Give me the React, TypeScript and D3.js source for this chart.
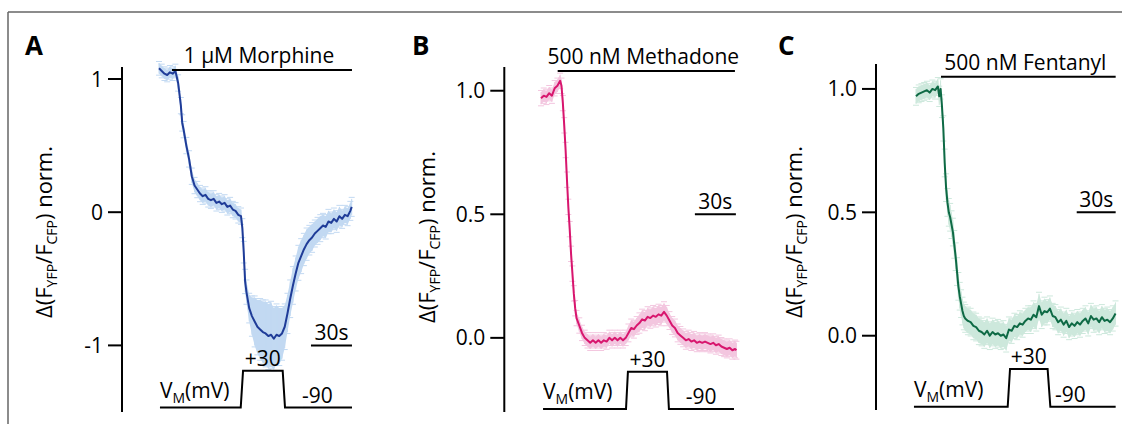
import React from 'react';
import * as d3 from 'd3';

const FONT = '"Open Sans", "Noto Sans", sans-serif';
const PX_PER_SEC = 41 / 30;

// A: 1 µM Morphine (time in s, normalised FRET ratio, SEM)
const timeA = [0, 2, 4, 6, 8, 10, 12, 14, 16, 17, 18, 20, 22, 24, 26, 28, 30, 32, 34, 36, 38, 40, 42, 44, 46, 48, 50, 52, 54, 56, 58, 60, 61, 62, 63, 64, 66, 68, 70, 72, 74, 76, 78, 80, 82, 84, 86, 88, 90, 92, 94, 96, 98, 100, 102, 104, 106, 108, 110, 112, 114, 116, 118, 120, 122, 124, 126, 128, 130, 132, 134, 136, 138, 140, 141];
const meanA = [1.08, 1.06, 1.04, 1.03, 1.05, 1.04, 1.06, 0.97, 0.8, 0.67, 0.62, 0.5, 0.4, 0.27, 0.2, 0.17, 0.14, 0.12, 0.13, 0.1, 0.09, 0.1, 0.07, 0.08, 0.06, 0.07, 0.04, 0.05, 0.02, 0.01, -0.02, -0.03, -0.12, -0.3, -0.52, -0.6, -0.72, -0.78, -0.82, -0.86, -0.88, -0.9, -0.91, -0.93, -0.92, -0.95, -0.92, -0.93, -0.91, -0.86, -0.76, -0.65, -0.55, -0.46, -0.38, -0.33, -0.28, -0.24, -0.21, -0.19, -0.16, -0.14, -0.12, -0.1, -0.11, -0.07, -0.08, -0.05, -0.07, -0.03, -0.05, -0.02, -0.03, 0.01, 0.04];
const semA = [0.04, 0.04, 0.04, 0.04, 0.04, 0.04, 0.04, 0.05, 0.05, 0.05, 0.05, 0.05, 0.05, 0.05, 0.05, 0.05, 0.05, 0.05, 0.05, 0.05, 0.05, 0.05, 0.05, 0.05, 0.05, 0.05, 0.05, 0.05, 0.05, 0.05, 0.05, 0.05, 0.06, 0.07, 0.08, 0.08, 0.1, 0.14, 0.18, 0.2, 0.22, 0.23, 0.24, 0.24, 0.24, 0.23, 0.22, 0.21, 0.19, 0.16, 0.14, 0.13, 0.13, 0.12, 0.12, 0.12, 0.11, 0.11, 0.1, 0.1, 0.09, 0.09, 0.09, 0.08, 0.08, 0.08, 0.07, 0.07, 0.07, 0.07, 0.06, 0.06, 0.06, 0.06, 0.06];

// B: 500 nM Methadone
const timeB = [0, 2, 4, 6, 8, 10, 12, 14, 15, 16, 17, 18, 19, 20, 21, 22, 23, 24, 25, 26, 28, 30, 32, 34, 36, 38, 40, 42, 44, 46, 48, 50, 52, 54, 56, 58, 60, 62, 64, 66, 68, 70, 72, 74, 76, 78, 80, 82, 84, 86, 88, 90, 92, 94, 96, 98, 100, 102, 104, 106, 108, 110, 112, 114, 116, 118, 120, 122, 124, 126, 128, 130, 132, 134, 136, 138, 140, 142, 143];
const meanB = [0.97, 0.98, 0.975, 0.99, 0.98, 1.01, 1.02, 1.04, 1.02, 0.95, 0.86, 0.76, 0.64, 0.53, 0.44, 0.34, 0.26, 0.18, 0.12, 0.08, 0.05, 0.02, 0.0, -0.01, -0.02, -0.01, -0.02, -0.01, -0.02, -0.01, -0.015, 0.0, -0.01, 0.0, -0.01, 0.0, -0.01, 0.0, 0.02, 0.04, 0.035, 0.05, 0.06, 0.075, 0.07, 0.085, 0.08, 0.09, 0.085, 0.095, 0.09, 0.105, 0.09, 0.07, 0.05, 0.04, 0.02, 0.01, 0.0, -0.01, -0.005, -0.015, -0.01, -0.02, -0.015, -0.02, -0.015, -0.02, -0.025, -0.02, -0.03, -0.025, -0.035, -0.04, -0.045, -0.04, -0.05, -0.045, -0.05];
const semB = [0.025, 0.025, 0.025, 0.025, 0.025, 0.025, 0.025, 0.025, 0.025, 0.025, 0.025, 0.025, 0.025, 0.025, 0.025, 0.025, 0.025, 0.025, 0.025, 0.025, 0.025, 0.025, 0.025, 0.025, 0.025, 0.025, 0.025, 0.025, 0.025, 0.025, 0.025, 0.025, 0.025, 0.025, 0.025, 0.025, 0.025, 0.025, 0.03, 0.03, 0.03, 0.03, 0.035, 0.035, 0.035, 0.035, 0.035, 0.035, 0.035, 0.035, 0.035, 0.035, 0.035, 0.03, 0.03, 0.03, 0.03, 0.03, 0.03, 0.03, 0.03, 0.03, 0.03, 0.03, 0.03, 0.03, 0.03, 0.03, 0.03, 0.03, 0.03, 0.03, 0.03, 0.03, 0.03, 0.03, 0.03, 0.03, 0.03];

// C: 500 nM Fentanyl
const timeC = [0, 2, 4, 6, 8, 10, 12, 14, 16, 17, 18, 19, 20, 21, 22, 23, 24, 25, 26, 27, 28, 29, 30, 31, 32, 33, 34, 35, 36, 38, 40, 42, 44, 46, 48, 50, 52, 54, 56, 58, 60, 62, 64, 66, 68, 70, 72, 74, 76, 78, 80, 82, 84, 86, 88, 90, 92, 94, 96, 98, 100, 102, 104, 106, 108, 110, 112, 114, 116, 118, 120, 122, 124, 126, 128, 130, 132, 134, 136, 138, 140, 142, 144, 146];
const meanC = [0.97, 0.98, 0.985, 0.99, 0.995, 0.985, 1.0, 0.995, 1.01, 0.97, 1.0, 0.93, 0.84, 0.7, 0.6, 0.54, 0.5, 0.48, 0.45, 0.42, 0.37, 0.32, 0.26, 0.2, 0.16, 0.13, 0.1, 0.08, 0.07, 0.06, 0.055, 0.04, 0.035, 0.02, 0.015, 0.005, 0.02, 0.0, 0.015, 0.005, 0.01, 0.0, 0.005, -0.01, 0.025, 0.02, 0.04, 0.035, 0.05, 0.045, 0.06, 0.07, 0.065, 0.085, 0.075, 0.12, 0.085, 0.1, 0.095, 0.11, 0.08, 0.075, 0.055, 0.065, 0.045, 0.06, 0.035, 0.05, 0.04, 0.055, 0.045, 0.06, 0.07, 0.05, 0.08, 0.065, 0.07, 0.055, 0.075, 0.06, 0.065, 0.055, 0.07, 0.09];
const semC = [0.03, 0.03, 0.03, 0.03, 0.03, 0.03, 0.03, 0.03, 0.03, 0.035, 0.035, 0.04, 0.045, 0.05, 0.05, 0.05, 0.05, 0.05, 0.05, 0.05, 0.05, 0.05, 0.05, 0.05, 0.05, 0.05, 0.05, 0.05, 0.05, 0.05, 0.05, 0.05, 0.05, 0.05, 0.05, 0.05, 0.05, 0.05, 0.05, 0.05, 0.05, 0.05, 0.05, 0.05, 0.045, 0.045, 0.045, 0.045, 0.045, 0.045, 0.045, 0.045, 0.05, 0.05, 0.05, 0.05, 0.05, 0.05, 0.045, 0.045, 0.045, 0.045, 0.045, 0.045, 0.045, 0.045, 0.045, 0.045, 0.045, 0.045, 0.045, 0.045, 0.045, 0.045, 0.045, 0.045, 0.045, 0.045, 0.045, 0.045, 0.045, 0.045, 0.045, 0.045];

// voltage protocol (mV) and its time points per panel
const protocolMv = [-90, -90, 30, 30, -90, -90];
const protocolTimeA = [0.7, 59.8, 61.5, 90.5, 92.2, 141.2];
const protocolTimeB = [1.5, 62.2, 63.6, 92.2, 93.6, 141.2];
const protocolTimeC = [-1.5, 67.1, 68.8, 96.3, 98.3, 146.1];

// drug application bars and 30 s scale bars (s)
const drugA = [9.5, 141.2];
const drugB = [12.2, 141.9];
const drugC = [18.3, 146.1];
const scaleBarA = [111.2, 141.2];
const scaleBarB = [112.6, 142.6];
const scaleBarC = [117.6, 146.1];

const ticksA = [-1, 0, 1];
const tickLabelsA = ['-1', '0', '1'];
const ticksBC = [0, 0.5, 1];
const tickLabelsBC = ['0.0', '0.5', '1.0'];

const panels = [
  {
    letter: 'A', drug: '1 µM Morphine', time: timeA, mean: meanA, sem: semA,
    protocol: protocolTimeA, drugT: drugA, scaleT: scaleBarA, ticks: ticksA, tickLabels: tickLabelsA,
    line: '#1f3c98', band: '#c2d9f2',
    x0: 159, axisX: 122, yDomain: [-1.5, 1.09], yRange: [412, 67], drugY: 70, scaleVal: -1,
    mvY: [407.5, 370.7], labelX: 52, labelY: 232, letterX: 25, minusT: 104.6,
  },
  {
    letter: 'B', drug: '500 nM Methadone', time: timeB, mean: meanB, sem: semB,
    protocol: protocolTimeB, drugT: drugB, scaleT: scaleBarB, ticks: ticksBC, tickLabels: tickLabelsBC,
    line: '#d8166e', band: '#f3c6df',
    x0: 541, axisX: 504.3, yDomain: [-0.3, 1.096], yRange: [412, 67], drugY: 71, scaleVal: 0.5,
    mvY: [409, 371.7], labelX: 435, labelY: 237, letterX: 412, minusT: 106,
  },
  {
    letter: 'C', drug: '500 nM Fentanyl', time: timeC, mean: meanC, sem: semC,
    protocol: protocolTimeC, drugT: drugC, scaleT: scaleBarC, ticks: ticksBC, tickLabels: tickLabelsBC,
    line: '#0e6a45', band: '#cde8dc',
    x0: 916, axisX: 876, yDomain: [-0.301, 1.101], yRange: [410, 64], drugY: 76.7, scaleVal: 0.5,
    mvY: [406.7, 369], labelX: 801.7, labelY: 232, letterX: 778, minusT: 101.7,
  },
];

function Panel({ p }: { p: any }) {
  const x = d3.scaleLinear().domain([0, 150]).range([p.x0, p.x0 + 150 * PX_PER_SEC]);
  const y = d3.scaleLinear().domain(p.yDomain).range(p.yRange);
  const mv = d3.scaleLinear().domain([-90, 30]).range(p.mvY);
  const pts = p.time.map((t: number, i: number) => ({ t, m: p.mean[i], s: p.sem[i] }));

  const line = d3.line<any>().x(d => x(d.t)).y(d => y(d.m));
  const area = d3.area<any>().x(d => x(d.t)).y0(d => y(d.m - d.s)).y1(d => y(d.m + d.s));
  const proto = d3.line<number>().x(t => x(t)).y((_, i) => mv(protocolMv[i]));

  const tickLen = 14;
  const yScaleBar = y(p.scaleVal);
  const pulseMid = x((p.protocol[2] + p.protocol[3]) / 2);
  const fs = 21;

  return (
    <g>
      <text x={p.letterX} y={55} fontSize={26} fontWeight="bold">{p.letter}</text>

      {/* y axis */}
      <line x1={p.axisX} x2={p.axisX} y1={p.yRange[1]} y2={p.yRange[0]} stroke="#000" strokeWidth={2} />
      {p.ticks.map((v: number, i: number) => (
        <g key={v}>
          <line x1={p.axisX - tickLen} x2={p.axisX} y1={y(v)} y2={y(v)} stroke="#000" strokeWidth={2} />
          <text x={p.axisX - tickLen - 5} y={y(v)} dy="0.36em" textAnchor="end" fontSize={fs}>{p.tickLabels[i]}</text>
        </g>
      ))}
      <text transform={`translate(${p.labelX},${p.labelY}) rotate(-90)`} textAnchor="middle" fontSize={22}>
        Δ(F<tspan fontSize={14} dy={5}>YFP</tspan><tspan dy={-5}>/F</tspan><tspan fontSize={14} dy={5}>CFP</tspan><tspan dy={-5}>) norm.</tspan>
      </text>

      {/* error band and bars */}
      <path d={area(pts) || ''} fill={p.band} stroke="none" />
      {pts.map((d: any, i: number) => (
        <g key={i} stroke={p.band} strokeWidth={1}>
          <line x1={x(d.t)} x2={x(d.t)} y1={y(d.m - d.s)} y2={y(d.m + d.s)} />
          <line x1={x(d.t) - 3} x2={x(d.t) + 3} y1={y(d.m - d.s) + 1.5} y2={y(d.m - d.s) + 1.5} />
          <line x1={x(d.t) - 3} x2={x(d.t) + 3} y1={y(d.m + d.s) - 1.5} y2={y(d.m + d.s) - 1.5} />
        </g>
      ))}
      <path d={line(pts) || ''} fill="none" stroke={p.line} strokeWidth={2} strokeLinejoin="round" />

      {/* drug application */}
      <line x1={x(p.drugT[0])} x2={x(p.drugT[1])} y1={p.drugY} y2={p.drugY} stroke="#000" strokeWidth={2} />
      <text x={(x(p.drugT[0]) + x(p.drugT[1])) / 2 - 3} y={p.drugY - 7} textAnchor="middle" fontSize={fs}>{p.drug}</text>

      {/* 30 s scale bar */}
      <line x1={x(p.scaleT[0])} x2={x(p.scaleT[1])} y1={yScaleBar} y2={yScaleBar} stroke="#000" strokeWidth={2} />
      <text x={(x(p.scaleT[0]) + x(p.scaleT[1])) / 2} y={yScaleBar - 5} textAnchor="middle" fontSize={fs}>30s</text>

      {/* voltage protocol */}
      <path d={proto(p.protocol) || ''} fill="none" stroke="#000" strokeWidth={2} />
      <text x={x(p.protocol[0])} y={mv(-90) - 10} fontSize={fs}>
        V<tspan fontSize={14} dy={5}>M</tspan><tspan dy={-5}>(mV)</tspan>
      </text>
      <text x={pulseMid} y={mv(30) - 5} textAnchor="middle" fontSize={fs}>+30</text>
      <text x={x(p.minusT)} y={mv(-90) - 5} fontSize={fs}>-90</text>
    </g>
  );
}

export default function App() {
  return (
    <svg width={1122} height={424} style={{ position: 'absolute', left: 0, top: 0, background: '#fff' }}
      fontFamily={FONT} fill="#000">
      <line x1={8} x2={1122} y1={12} y2={12} stroke="#666" strokeWidth={1.5} />
      <line x1={8} x2={8} y1={12} y2={424} stroke="#666" strokeWidth={1.5} />
      {panels.map(p => <Panel key={p.letter} p={p} />)}
    </svg>
  );
}
